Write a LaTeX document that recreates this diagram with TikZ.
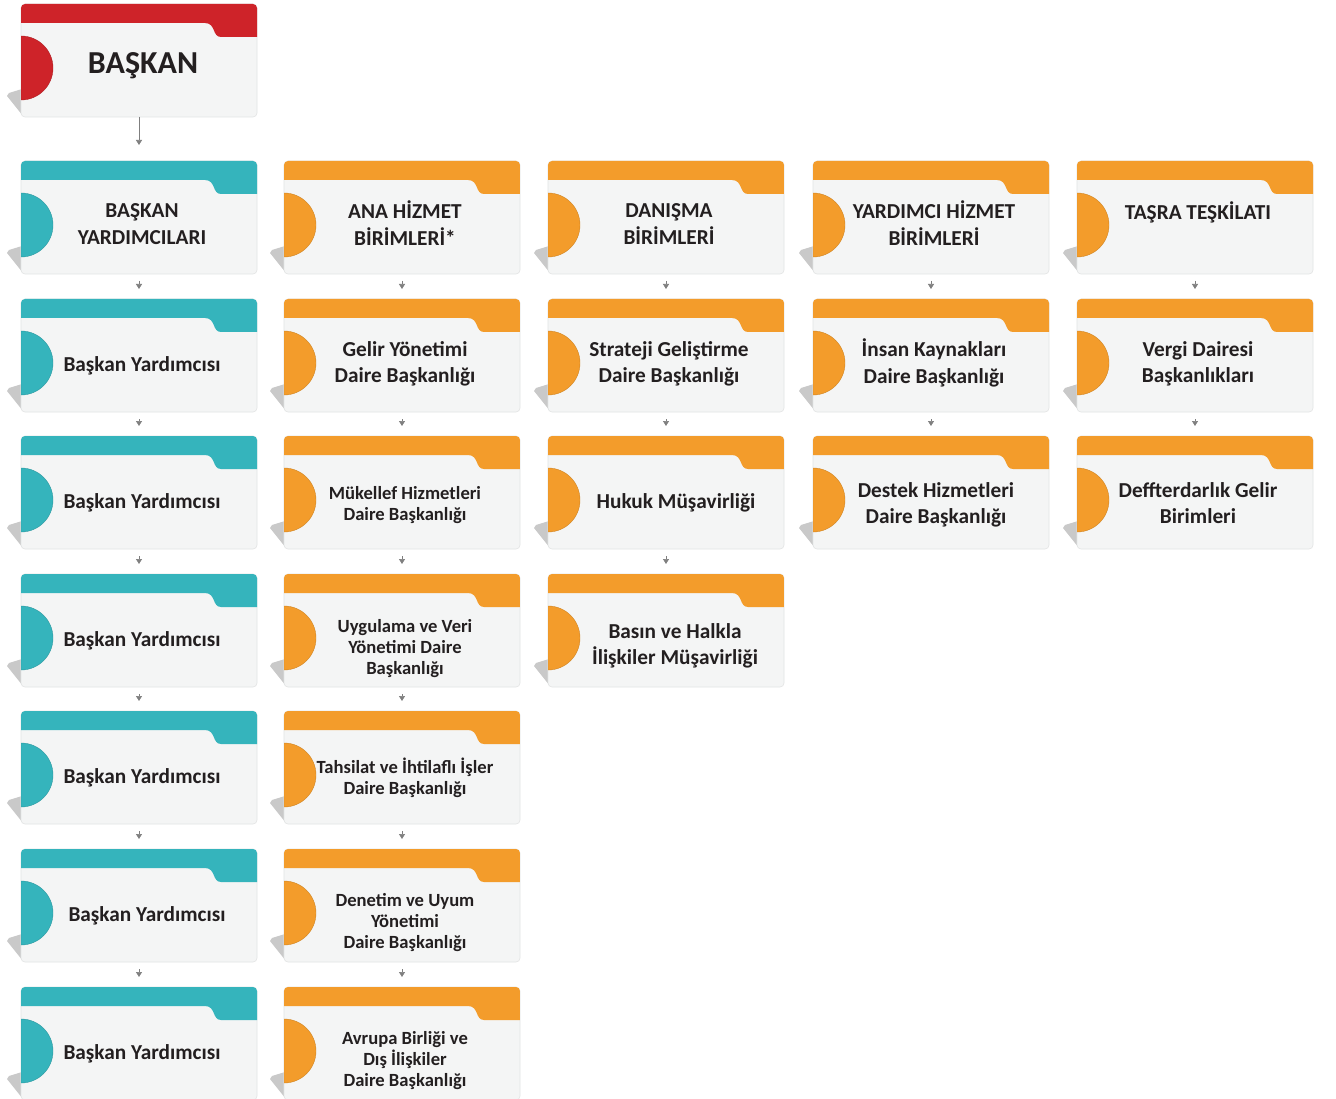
\documentclass[tikz,border=0pt]{standalone}
\usepackage{fontspec}
\setmainfont{Carlito}
\usetikzlibrary{arrows.meta}
\definecolor{kirmizi}{HTML}{CE2329}
\definecolor{turkuaz}{HTML}{35B4BC}
\definecolor{turuncu}{HTML}{F39C2B}
\definecolor{govde}{HTML}{F4F5F5}
\definecolor{kenar}{HTML}{E2E4E4}
\definecolor{golge}{HTML}{C9C9C9}
\definecolor{yazi}{HTML}{231F20}
\definecolor{ok}{HTML}{7F7F7F}
\tikzset{
  kutu/.style={minimum width=236pt, minimum height=113pt, inner sep=0pt, outer sep=0pt},
  etiket/.style={align=center, text=yazi, inner sep=0pt},
  buyuk/.style={font=\bfseries\fontsize{21.3}{26.5}\selectfont},
  kucuk/.style={font=\bfseries\fontsize{18.6}{21}\selectfont},
  baslik/.style={font=\bfseries\fontsize{32}{36}\selectfont, xshift=1pt, yshift=2pt},
  ust/.style={buyuk, yshift=1pt},
  tek/.style={buyuk, yshift=-3pt},
  bag/.style={draw=ok, line width=0.7pt, -{Triangle[width=6pt,length=5pt]}},
  kisa/.style={bag, shorten <=7pt, shorten >=10pt},
}
% kart: ad, x, y, renk, yazi stili, metin
\newcommand{\kart}[6]{%
  \begin{scope}[shift={(#2,#3)}]
    \fill[golge] (1,85) -- (-12,89) -- (-14,92) -- (2,112) -- cycle;
    \filldraw[fill=govde, draw=kenar, line width=0.6pt, rounded corners=4pt] (0,0) rectangle (236,113);
    \begin{scope}
      \clip[rounded corners=4pt] (0,0) rectangle (236,113);
      \fill[#4] (0,0) -- (236,0) -- (236,33) -- (200,33)
        .. controls (191,33) and (195,19) .. (184,19) -- (0,19) -- cycle;
      \filldraw[fill=#4, draw=#4!85!black, line width=0.4pt] (0,32) arc[start angle=-90, end angle=90, radius=32] -- cycle;
    \end{scope}
    \node[kutu] (#1) at (118,56.5) {};
    \node[etiket,#5] (#1-m) at (121,64) {#6};
  \end{scope}}

\begin{document}
\begin{tikzpicture}[x=1pt, y=-1pt]
  \useasboundingbox (0,0) rectangle (1336,1099);
  \fill[white] (0,0) rectangle (1336,1099);

  \kart{baskan}{21}{4}{kirmizi}{baslik}{BAŞKAN}

  % baskan yardimcilari
  \kart{by0}{21}{161}{turkuaz}{ust}{BAŞKAN\\YARDIMCILARI}
  \kart{by1}{21}{299}{turkuaz}{tek}{Başkan Yardımcısı}
  \kart{by2}{21}{436}{turkuaz}{tek}{Başkan Yardımcısı}
  \kart{by3}{21}{574}{turkuaz}{tek}{Başkan Yardımcısı}
  \kart{by4}{21}{711}{turkuaz}{tek}{Başkan Yardımcısı}
  \kart{by5}{21}{849}{turkuaz}{tek}{\hspace*{10pt}Başkan Yardımcısı}
  \kart{by6}{21}{987}{turkuaz}{tek}{Başkan Yardımcısı}

  % ana hizmet birimleri
  \kart{ana0}{284}{161}{turuncu}{ust, yshift=1pt}{ANA HİZMET\\BİRİMLERİ*}
  \kart{ana1}{284}{299}{turuncu}{buyuk, yshift=-1pt}{Gelir Yönetimi\\Daire Başkanlığı}
  \kart{ana2}{284}{436}{turuncu}{kucuk, yshift=-5pt}{Mükellef Hizmetleri\\Daire Başkanlığı}
  \kart{ana3}{284}{574}{turuncu}{kucuk, yshift=-11pt}{Uygulama ve Veri\\Yönetimi Daire\\Başkanlığı}
  \kart{ana4}{284}{711}{turuncu}{kucuk, yshift=-3pt}{Tahsilat ve İhtilaflı İşler\\Daire Başkanlığı}
  \kart{ana5}{284}{849}{turuncu}{kucuk, yshift=-10pt}{Denetim ve Uyum\\Yönetimi\\Daire Başkanlığı}
  \kart{ana6}{284}{987}{turuncu}{kucuk, yshift=-10pt}{Avrupa Birliği ve\\Dış İlişkiler\\Daire Başkanlığı}

  % danisma birimleri
  \kart{dan0}{548}{161}{turuncu}{ust}{DANIŞMA\\BİRİMLERİ}
  \kart{dan1}{548}{299}{turuncu}{buyuk, yshift=-1pt}{Strateji Geliştirme\\Daire Başkanlığı}
  \kart{dan2}{548}{436}{turuncu}{tek, xshift=7pt}{Hukuk Müşavirliği}
  \kart{dan3}{548}{574}{turuncu}{buyuk, yshift=-8pt, xshift=6pt}{Basın ve Halkla\\İlişkiler Müşavirliği}

  % yardimci hizmet birimleri
  \kart{yar0}{813}{161}{turuncu}{ust, yshift=1pt}{YARDIMCI HİZMET\\BİRİMLERİ}
  \kart{yar1}{813}{299}{turuncu}{buyuk}{İnsan Kaynakları\\Daire Başkanlığı}
  \kart{yar2}{813}{436}{turuncu}{buyuk, yshift=-5pt, xshift=2pt}{Destek Hizmetleri\\Daire Başkanlığı}

  % tasra teskilati
  \kart{tas0}{1077}{161}{turuncu}{ust}{TAŞRA TEŞKİLATI\\\mbox{}}
  \kart{tas1}{1077}{299}{turuncu}{buyuk, yshift=-1pt}{Vergi Dairesi\\Başkanlıkları}
  \kart{tas2}{1077}{436}{turuncu}{buyuk, yshift=-3pt}{Deffterdarlık Gelir\\Birimleri}

  % baglantilar
  \draw[bag, shorten >=16pt] (baskan) -- (by0);
  \draw[kisa] (by0) -- (by1);
  \draw[kisa] (by1) -- (by2);
  \draw[kisa] (by2) -- (by3);
  \draw[kisa] (by3) -- (by4);
  \draw[kisa] (by4) -- (by5);
  \draw[kisa] (by5) -- (by6);
  \draw[kisa] (ana0) -- (ana1);
  \draw[kisa] (ana1) -- (ana2);
  \draw[kisa] (ana2) -- (ana3);
  \draw[kisa] (ana3) -- (ana4);
  \draw[kisa] (ana4) -- (ana5);
  \draw[kisa] (ana5) -- (ana6);
  \draw[kisa] (dan0) -- (dan1);
  \draw[kisa] (dan1) -- (dan2);
  \draw[kisa] (dan2) -- (dan3);
  \draw[kisa] (yar0) -- (yar1);
  \draw[kisa] (yar1) -- (yar2);
  \draw[kisa] (tas0) -- (tas1);
  \draw[kisa] (tas1) -- (tas2);
\end{tikzpicture}
\end{document}
